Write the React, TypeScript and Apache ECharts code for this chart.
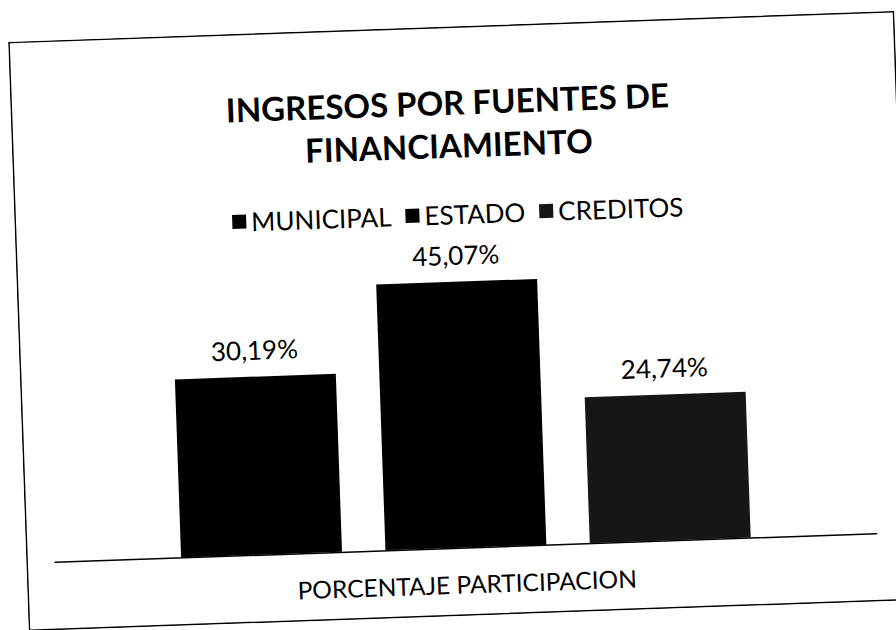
import React, { useEffect, useRef } from "react";
import * as echarts from "echarts";

const categories = ["PORCENTAJE PARTICIPACION"];
const seriesNames = ["MUNICIPAL", "ESTADO", "CREDITOS"];
const municipal = [30.19];
const estado = [45.07];
const creditos = [24.74];
const seriesColors = ["#000000", "#000000", "#161616"];
const titleLines = ["INGRESOS POR FUENTES DE", "FINANCIAMIENTO"];

const FONT = "Lato, 'Open Sans', sans-serif";

export default function App() {
  const ref = useRef<HTMLDivElement>(null);
  useEffect(() => {
    if (!ref.current) return;
    const chart = echarts.init(ref.current, undefined, { renderer: "svg" });
    const values = [municipal, estado, creditos];
    const fmt = (p: any) => Number(p.value).toFixed(2).replace(".", ",") + "%";
    chart.setOption({
      animation: false,
      backgroundColor: "#ffffff",
      title: {
        text: titleLines.join("\n"),
        left: 432,
        textAlign: "center",
        top: 49,
        textStyle: {
          fontFamily: FONT,
          fontWeight: "bold",
          fontSize: 33,
          lineHeight: 43,
          color: "#000",
        },
      },
      legend: {
        top: 170,
        left: "center",
        itemWidth: 14,
        itemHeight: 14,
        itemGap: 14,
        icon: "rect",
        textStyle: { fontFamily: FONT, fontSize: 26, color: "#000" },
        data: seriesNames,
      },
      grid: { left: 29, right: 36, top: 226.5, bottom: 68.5, containLabel: false },
      xAxis: {
        type: "category",
        data: categories,
        axisLine: { show: true, lineStyle: { color: "#000", width: 1.5 } },
        axisTick: { show: false },
        axisLabel: { fontFamily: FONT, fontSize: 24.5, color: "#000", margin: 24 },
      },
      yAxis: { type: "value", min: 0, max: 50, show: false, splitLine: { show: false } },
      series: seriesNames.map((name, i) => ({
        name,
        type: "bar",
        data: values[i],
        barWidth: 161,
        barGap: "27%",
        itemStyle: { color: seriesColors[i] },
        label: {
          show: true,
          position: "top",
          distance: 14,
          formatter: fmt,
          fontFamily: FONT,
          fontSize: 26,
          color: "#000",
        },
      })),
      graphic: [
        {
          type: "rect",
          shape: { x: 1, y: 1, width: 885, height: 588 },
          style: { fill: "none", stroke: "#000", lineWidth: 1.5 },
          silent: true,
        },
      ],
    });
    return () => chart.dispose();
  }, []);
  return (
    <div
      style={{
        position: "fixed",
        left: 0,
        top: 0,
        width: 896,
        height: 630,
        overflow: "hidden",
        background: "#fff",
      }}
    >
      <div
        ref={ref}
        style={{
          position: "absolute",
          left: 17.5,
          top: 26,
          width: 887,
          height: 590,
          transform: "rotate(-2deg)",
          transformOrigin: "50% 50%",
        }}
      />
    </div>
  );
}
